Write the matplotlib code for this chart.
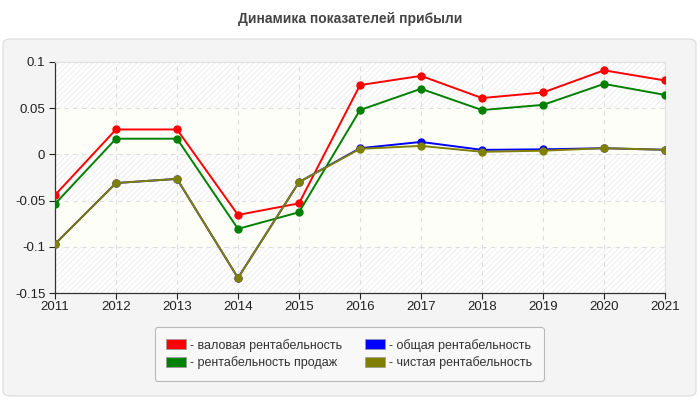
import matplotlib
matplotlib.use("Agg")
import matplotlib.pyplot as plt
from matplotlib.patches import FancyBboxPatch, Patch

plt.rcParams['font.family'] = ['Liberation Sans', 'DejaVu Sans']
plt.rcParams['hatch.color'] = '#eeeeee'
plt.rcParams['hatch.linewidth'] = 0.7

# Данные
years = [2011, 2012, 2013, 2014, 2015, 2016, 2017, 2018, 2019, 2020, 2021]
valovaya = [-0.044, 0.027, 0.027, -0.0655, -0.053, 0.075, 0.085, 0.061, 0.067, 0.091, 0.080]
prodazh = [-0.0536, 0.017, 0.017, -0.0806, -0.0626, 0.048, 0.071, 0.048, 0.0536, 0.0763, 0.0644]
obshaya = [-0.097, -0.031, -0.0265, -0.1337, -0.030, 0.0067, 0.0135, 0.0049, 0.0055, 0.0067, 0.005]
chistaya = [-0.097, -0.031, -0.0265, -0.1337, -0.030, 0.006, 0.0092, 0.0028, 0.004, 0.0067, 0.005]

labels = ['- валовая рентабельность', '- рентабельность продаж',
          '- общая рентабельность', '- чистая рентабельность']
colors = ['#ff0000', '#008000', '#0000ff', '#808000']
yticks = [-0.15, -0.1, -0.05, 0, 0.05, 0.1]
ytick_labels = ['-0.15', '-0.1', '-0.05', '0', '0.05', '0.1']

fig = plt.figure(figsize=(7, 4), dpi=100)
fig.patch.set_facecolor('white')

# Панель фона
panel = FancyBboxPatch((3 / 700, 4 / 400), 693 / 700, 357 / 400,
                       boxstyle="round,pad=0,rounding_size=0.012",
                       transform=fig.transFigure, facecolor='#f4f4f4',
                       edgecolor='#dcdcdc', linewidth=0.8, zorder=-10)
fig.patches.append(panel)

fig.text(0.5, 0.952, 'Динамика показателей прибыли', ha='center', va='center',
         fontsize=10, fontweight='bold', color='#444444')

ax = fig.add_axes([55 / 700, 107 / 400, 610 / 700, 231 / 400])
ax.set_zorder(1)
ax.set_facecolor('white')

# Полосы фона
for i in range(len(yticks) - 1):
    lo, hi = yticks[i], yticks[i + 1]
    if i % 2 == 0:
        ax.axhspan(lo, hi, facecolor='white', hatch='//////', edgecolor='#eeeeee',
                   linewidth=0, zorder=0)
    else:
        ax.axhspan(lo, hi, facecolor='#fefef9', linewidth=0, zorder=0)

series = [valovaya, prodazh, obshaya, chistaya]
for s, c in zip(series, colors):
    ax.plot(years, s, color=c, linewidth=1.4, marker='o', markersize=5, zorder=3)

ax.set_xlim(2011, 2021)
ax.set_ylim(-0.15, 0.1)
ax.set_xticks(years)
ax.set_yticks(yticks)
ax.set_yticklabels(ytick_labels)
ax.grid(True, linestyle=(0, (4, 4)), color='#dddddd', linewidth=0.8, zorder=1)
ax.set_axisbelow(True)
ax.tick_params(labelsize=9.5, colors='#222222', length=4, width=0.8)
ax.tick_params(axis='x', pad=2)
ax.tick_params(axis='y', pad=3)

for side in ['left', 'bottom']:
    ax.spines[side].set_color('#333333')
    ax.spines[side].set_linewidth(0.9)
for side in ['top', 'right']:
    ax.spines[side].set_color('#e0e0e0')
    ax.spines[side].set_linewidth(0.8)

handles = [Patch(facecolor=c, edgecolor='#999999', linewidth=0.5) for c in colors]
leg = fig.legend(handles, labels, ncol=2, loc='center',
                 bbox_to_anchor=(349 / 700, 1 - 354 / 400),
                 fontsize=9, frameon=True, fancybox=True,
                 handlelength=1.6, handleheight=0.8, handletextpad=0.3,
                 columnspacing=1.9, borderpad=0.9, labelspacing=0.4)
leg.get_frame().set_facecolor('#fafafa')
leg.get_frame().set_edgecolor('#aaaaaa')
leg.get_frame().set_linewidth(0.8)
for t in leg.get_texts():
    t.set_color('#333333')

fig.savefig('out.png', dpi=100)
